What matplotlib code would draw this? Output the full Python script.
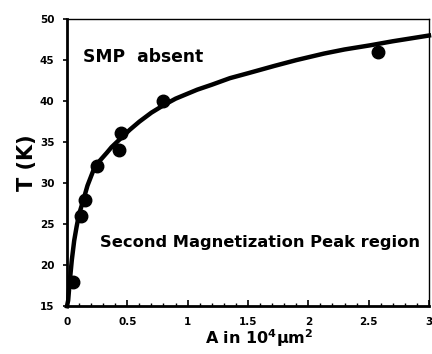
import numpy as np
import matplotlib.pyplot as plt

# measured points
area = [0.05, 0.12, 0.15, 0.25, 0.43, 0.45, 0.80, 2.58]
temp = [17.9, 26.0, 28.0, 32.1, 34.0, 36.1, 40.0, 46.0]

# fitted curve
curve_x = [0.0, 0.01, 0.02, 0.04, 0.06, 0.08, 0.10, 0.135, 0.17, 0.22, 0.27, 0.33, 0.37, 0.42,
           0.47, 0.52, 0.60, 0.70, 0.80, 0.90, 1.08, 1.20, 1.35, 1.50, 1.72, 1.90, 2.13, 2.30, 2.51, 2.70, 3.0]
curve_y = [15.0, 15.7, 17.5, 20.6, 23.0, 24.7, 26.2, 27.9, 29.7, 31.6, 32.7, 33.7, 34.4, 35.1,
           35.8, 36.5, 37.5, 38.6, 39.5, 40.3, 41.4, 42.0, 42.8, 43.4, 44.3, 45.0, 45.8, 46.3, 46.8, 47.3, 48.0]

plt.rcParams['font.family'] = ['DejaVu Sans']
plt.rcParams['font.weight'] = 'bold'
plt.rcParams['mathtext.default'] = 'bf'

fig = plt.figure(figsize=(4.32, 3.54), dpi=100)
ax = fig.add_axes([0.155, 0.135, 0.838, 0.811])

ax.plot(curve_x, curve_y, color='black', lw=3.2, solid_joinstyle='round', clip_on=False)
ax.plot(area, temp, 'o', color='black', ms=9)

ax.set_xlim(0, 3)
ax.set_ylim(15, 50)
ax.set_xticks([0, 0.5, 1, 1.5, 2, 2.5, 3])
ax.set_xticklabels(['0', '0.5', '1', '1.5', '2', '2.5', '3'])
ax.set_xticks(np.arange(0, 3.01, 0.1), minor=True)
ax.set_yticks(range(15, 51, 5))

ax.tick_params(axis='x', which='major', direction='in', length=4, width=1.2, labelsize=7.5, pad=8)
ax.tick_params(axis='x', which='minor', direction='in', length=2.5, width=1)
ax.tick_params(axis='y', which='major', direction='out', length=3, width=1.2, labelsize=7.5, pad=6)

ax.spines['left'].set_linewidth(2)
ax.spines['bottom'].set_linewidth(2)
ax.spines['top'].set_linewidth(1)
ax.spines['right'].set_linewidth(1)

ax.set_xlabel(r'A in 10$^{4}$$\mu$m$^{2}$', fontsize=11.5, fontweight='bold', labelpad=1)
ax.xaxis.set_label_coords(0.53, -0.075)
ax.set_ylabel('T (K)', fontsize=15, fontweight='bold', labelpad=2)

ax.text(0.13, 45.4, 'SMP  absent', fontsize=12.3, fontweight='bold', va='center')
ax.text(0.27, 22.8, 'Second Magnetization Peak region', fontsize=11.7, fontweight='bold', va='center')

fig.savefig('out.png', dpi=100)
